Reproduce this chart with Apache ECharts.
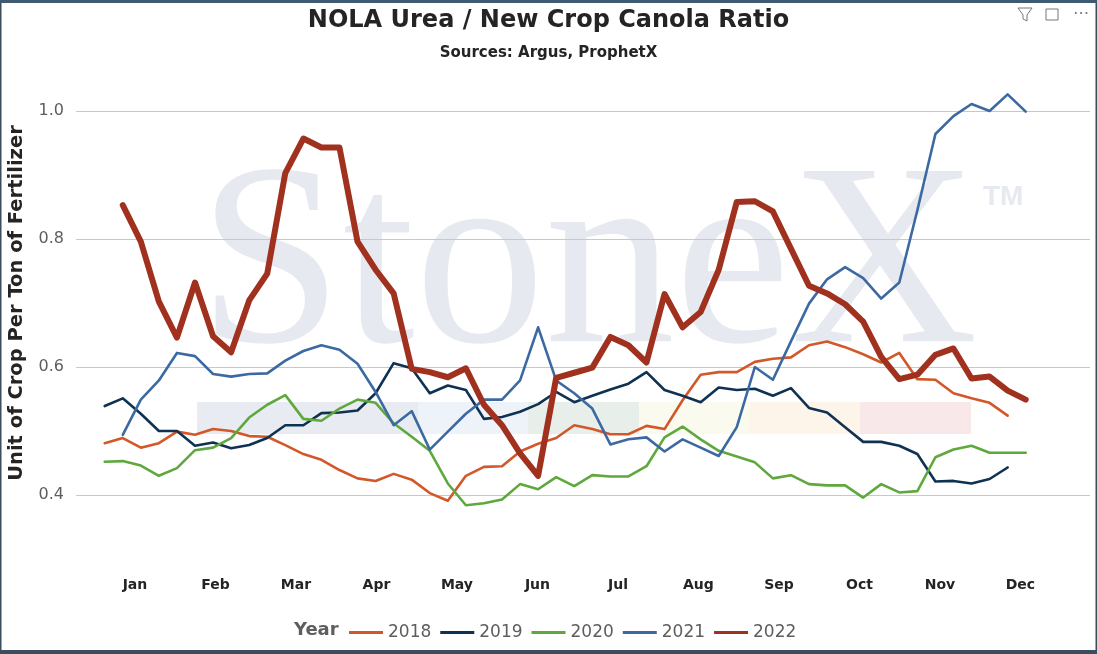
<!DOCTYPE html>
<html lang="en">
<head>
    <meta charset="UTF-8">
    <title>NOLA Urea / New Crop Canola Ratio</title>
    <script src="https://cdn.jsdelivr.net/npm/echarts@6/dist/echarts.min.js"></script>
    <style>
        html, body { margin: 0; padding: 0; background: #fff; }
        #chart { width: 1097px; height: 654px; }
    </style>
</head>
<body>
<div id="chart"></div>
<script type="text/javascript">
    // weekly values, week index 0 = first week of January
    var months = ['Jan', 'Feb', 'Mar', 'Apr', 'May', 'Jun', 'Jul', 'Aug', 'Sep', 'Oct', 'Nov', 'Dec'];
    var years = ['2018', '2019', '2020', '2021', '2022'];
    var yTicks = [0.4, 0.6, 0.8, 1.0];

    var y2018 = [0.481, 0.489, 0.474, 0.481, 0.499, 0.494, 0.503, 0.500, 0.492, 0.491, 0.478, 0.464, 0.455,
        0.439, 0.426, 0.422, 0.433, 0.424, 0.403, 0.391, 0.430, 0.444, 0.445, 0.468, 0.480,
        0.489, 0.509, 0.503, 0.495, 0.495, 0.508, 0.503, 0.548, 0.588, 0.592, 0.592, 0.608,
        0.613, 0.615, 0.634, 0.640, 0.631, 0.620, 0.607, 0.622, 0.581, 0.580, 0.559, 0.551, 0.544, 0.524];
    var y2019 = [0.539, 0.551, 0.527, 0.500, 0.500, 0.477, 0.482, 0.473, 0.478, 0.489, 0.509, 0.509, 0.528,
        0.529, 0.532, 0.559, 0.606, 0.598, 0.559, 0.571, 0.564, 0.519, 0.522, 0.530, 0.542,
        0.561, 0.545, 0.555, 0.565, 0.574, 0.592, 0.564, 0.555, 0.545, 0.568, 0.564, 0.566,
        0.555, 0.567, 0.536, 0.529, 0.506, 0.483, 0.483, 0.477, 0.464, 0.421, 0.422, 0.418, 0.425, 0.443];
    var y2020 = [0.452, 0.453, 0.446, 0.430, 0.442, 0.470, 0.474, 0.489, 0.521, 0.541, 0.556, 0.519, 0.516,
        0.535, 0.549, 0.544, 0.512, 0.491, 0.469, 0.418, 0.384, 0.387, 0.393, 0.417, 0.409,
        0.428, 0.414, 0.431, 0.429, 0.429, 0.445, 0.490, 0.507, 0.487, 0.469, 0.460, 0.451,
        0.426, 0.431, 0.417, 0.415, 0.415, 0.396, 0.417, 0.404, 0.406, 0.459, 0.471, 0.477, 0.466, 0.466, 0.466];
    // 2021 and 2022 start one week later
    var y2021 = [0.494, 0.549, 0.579, 0.622, 0.617, 0.589, 0.585, 0.589, 0.590, 0.610, 0.625, 0.634,
        0.627, 0.605, 0.561, 0.509, 0.531, 0.471, 0.499, 0.527, 0.549, 0.549, 0.579, 0.662,
        0.579, 0.559, 0.535, 0.479, 0.487, 0.490, 0.468, 0.487, 0.474, 0.461, 0.506, 0.600,
        0.580, 0.640, 0.699, 0.737, 0.756, 0.739, 0.707, 0.732, 0.845, 0.964, 0.992, 1.011, 1.000, 1.026, 0.999];
    var y2022 = [0.853, 0.796, 0.702, 0.646, 0.732, 0.648, 0.623, 0.704, 0.746, 0.903, 0.957, 0.943,
        0.943, 0.796, 0.752, 0.715, 0.597, 0.592, 0.584, 0.598, 0.541, 0.509, 0.465, 0.430,
        0.583, 0.591, 0.599, 0.647, 0.634, 0.607, 0.714, 0.662, 0.686, 0.752, 0.858, 0.859,
        0.843, 0.785, 0.727, 0.715, 0.698, 0.671, 0.616, 0.581, 0.588, 0.619, 0.629, 0.582, 0.585, 0.563, 0.549];
    var startWeek = [0, 0, 0, 1, 1];

    var colors = ['#d2582a', '#0f3253', '#5ea83d', '#3c69a2', '#a1311f'];
    var font = 'DejaVu Sans';
    var allValues = [y2018, y2019, y2020, y2021, y2022];

    function toPoints(vals, start) {
        return vals.map(function (v, i) { return [start + i, v]; });
    }

    var series = years.map(function (name, k) {
        return {
            name: name,
            type: 'line',
            xAxisIndex: 0,
            yAxisIndex: 0,
            data: toPoints(allValues[k], startWeek[k]),
            showSymbol: false,
            symbol: 'none',
            clip: false,
            lineStyle: {color: colors[k], width: k === 4 ? 6 : 2.6, join: 'round', cap: 'round'},
            itemStyle: {color: colors[k]},
            z: 3 + k
        };
    });

    var chart = echarts.init(document.getElementById('chart'));
    var option = {
        animation: false,
        backgroundColor: '#ffffff',
        title: [
            {
                text: 'NOLA Urea / New Crop Canola Ratio',
                left: 'center', top: 4,
                textStyle: {fontFamily: font, fontSize: 24, fontWeight: 'bold', color: '#252423'}
            },
            {
                text: 'Sources: Argus, ProphetX',
                left: 'center', top: 41,
                textStyle: {fontFamily: font, fontSize: 15, fontWeight: 'bold', color: '#252423'}
            }
        ],
        legend: {
            data: years,
            left: 344, top: 619,
            icon: 'rect', itemWidth: 34, itemHeight: 3, itemGap: 9,
            textStyle: {fontFamily: font, fontSize: 17, color: '#605e5c'}
        },
        grid: [
            {left: 76, right: 7, top: 111, bottom: 159, containLabel: false, outerBoundsMode: 'none'},
            {left: 94.7, right: 36.3, top: 100, bottom: 81, containLabel: false, outerBoundsMode: 'none'}
        ],
        xAxis: [
            {
                type: 'value', gridIndex: 0, min: -1.59, max: 54.56,
                axisLine: {show: false}, axisTick: {show: false},
                axisLabel: {show: false}, splitLine: {show: false}
            },
            {
                type: 'category', gridIndex: 1, data: months, boundaryGap: true,
                axisLine: {show: false}, axisTick: {show: false}, splitLine: {show: false},
                axisLabel: {fontFamily: font, fontSize: 14, fontWeight: 'bold', color: '#252423', margin: 5}
            }
        ],
        yAxis: [
            {
                type: 'value', gridIndex: 0,
                min: yTicks[0], max: yTicks[yTicks.length - 1], interval: 0.2,
                name: 'Unit of Crop Per Ton of Fertilizer',
                nameLocation: 'middle', nameGap: 49,
                nameTextStyle: {fontFamily: font, fontSize: 19.5, fontWeight: 'bold', color: '#252423'},
                axisLine: {show: false}, axisTick: {show: false},
                axisLabel: {
                    fontFamily: font, fontSize: 16, color: '#605e5c', margin: 12,
                    formatter: function (v) { return v.toFixed(1); }
                },
                splitLine: {lineStyle: {color: '#c8c8c8', width: 1}}
            },
            {type: 'value', gridIndex: 1, show: false}
        ],
        graphic: [
            // faint StoneX logo watermark
            {type: 'text', z: -1, silent: true, style: {
                text: 'StoneX', x: 198, y: 403, textVerticalAlign: 'bottom',
                font: '260px "Liberation Serif"', fill: '#e6e9ef'}},
            {type: 'text', z: -1, silent: true, style: {
                text: 'TM', x: 983, y: 183,
                font: 'bold 28px "Liberation Sans"', fill: '#e6e9ef'}},
            {type: 'rect', z: -1, silent: true, shape: {x: 197, y: 402, width: 221, height: 32}, style: {fill: '#e8ecf2'}},
            {type: 'rect', z: -1, silent: true, shape: {x: 418, y: 402, width: 110, height: 32}, style: {fill: '#eef3f9'}},
            {type: 'rect', z: -1, silent: true, shape: {x: 528, y: 402, width: 111, height: 32}, style: {fill: '#e8efea'}},
            {type: 'rect', z: -1, silent: true, shape: {x: 639, y: 402, width: 111, height: 32}, style: {fill: '#fbfaee'}},
            {type: 'rect', z: -1, silent: true, shape: {x: 750, y: 402, width: 110, height: 32}, style: {fill: '#fdf5ea'}},
            {type: 'rect', z: -1, silent: true, shape: {x: 860, y: 402, width: 111, height: 32}, style: {fill: '#f8e8e9'}},
            // legend caption
            {type: 'text', style: {
                text: 'Year', x: 294, y: 630, textVerticalAlign: 'middle',
                font: 'bold 18px "DejaVu Sans"', fill: '#605e5c'}},
            // header icons
            {type: 'polygon', shape: {points: [[1018, 8], [1032, 8], [1027, 15], [1027, 21], [1023, 19], [1023, 15]]},
                style: {fill: 'none', stroke: '#777', lineWidth: 1}},
            {type: 'rect', shape: {x: 1046, y: 9, width: 12, height: 11}, style: {fill: 'none', stroke: '#777', lineWidth: 1}},
            {type: 'text', style: {text: '\u22ef', x: 1073, y: 14, textVerticalAlign: 'middle',
                font: '16px "DejaVu Sans"', fill: '#777'}},
            // frame
            {type: 'rect', z: 100, silent: true, shape: {x: 0, y: 0, width: 1097, height: 654},
                style: {fill: 'none', stroke: '#3b4e5e', lineWidth: 3}},
            {type: 'rect', z: 100, silent: true, shape: {x: 0, y: 0, width: 1097, height: 3}, style: {fill: '#3f5a70'}},
            {type: 'rect', z: 100, silent: true, shape: {x: 0, y: 650, width: 1097, height: 4}, style: {fill: '#3b4e5e'}}
        ],
        series: series
    };
    chart.setOption(option);
</script>
</body>
</html>
